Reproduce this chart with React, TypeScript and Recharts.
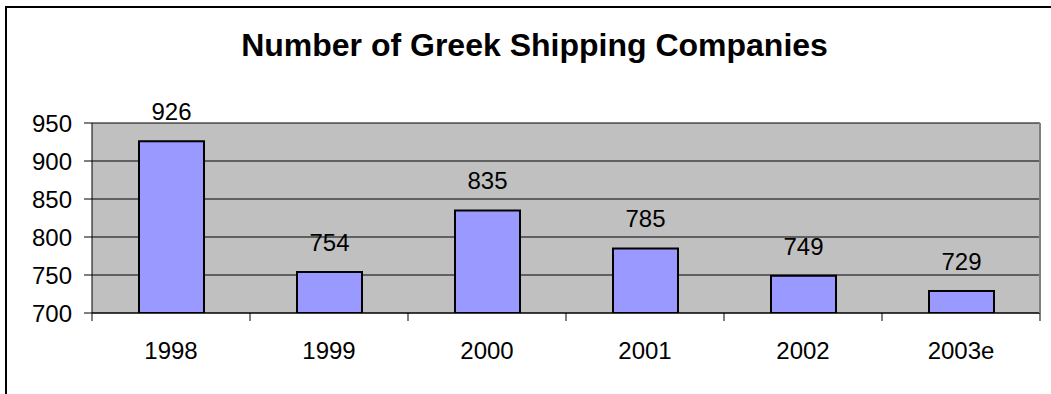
import { BarChart, Bar, XAxis, YAxis, CartesianGrid, LabelList } from "recharts";

// values
const years = ["1998", "1999", "2000", "2001", "2002", "2003e"];
const companies = [926, 754, 835, 785, 749, 729];
const yTicks = [700, 750, 800, 850, 900, 950];

const data = years.map((year, i) => ({ year, companies: companies[i] }));

const FONT = "'Liberation Sans', Arial, sans-serif";
const X_TICK_MARGIN = 29;

// category label plus the small tick marks that sit on the category boundaries
const YearTick = (props: any) => {
  const { x, y, payload, index, visibleTicksCount, width } = props;
  const half =
    typeof payload.offset === "number" && payload.offset > 0
      ? payload.offset
      : width / visibleTicksCount / 2;
  const axisY = y - X_TICK_MARGIN;
  return (
    <g>
      <line x1={x - half} y1={axisY} x2={x - half} y2={axisY + 8} stroke="#000" />
      {index === visibleTicksCount - 1 && (
        <line x1={x + half} y1={axisY} x2={x + half} y2={axisY + 8} stroke="#000" />
      )}
      <text
        x={x}
        y={y}
        dy="0.71em"
        textAnchor="middle"
        fill="#000"
        fontSize={24}
        fontFamily={FONT}
      >
        {payload.value}
      </text>
    </g>
  );
};

export default function App() {
  return (
    <div
      style={{
        position: "absolute",
        left: 0,
        top: 0,
        width: 1051,
        height: 394,
        overflow: "hidden",
        background: "#fff",
        fontFamily: FONT,
      }}
    >
      {/* outer chart frame, runs off the right and bottom edges */}
      <div
        style={{
          position: "absolute",
          left: 5,
          top: 6,
          width: 1100,
          height: 500,
          border: "2px solid #000",
          boxSizing: "border-box",
        }}
      />
      <div
        style={{
          position: "absolute",
          left: 0,
          top: 29,
          width: 1069,
          textAlign: "center",
          fontSize: 32,
          lineHeight: "32px",
          fontWeight: "bold",
          color: "#000",
        }}
      >
        Number of Greek Shipping Companies
      </div>
      <div style={{ position: "absolute", left: 0, top: 0 }}>
        <BarChart
          width={1051}
          height={394}
          data={data}
          margin={{ top: 123, right: 0, bottom: 0, left: 0 }}
          barCategoryGap={0}
        >
          <CartesianGrid
            vertical={false}
            stroke="#000"
            strokeWidth={1}
            fill="#C0C0C0"
            fillOpacity={1}
          />
          <XAxis
            dataKey="year"
            height={81}
            axisLine={{ stroke: "#000", strokeWidth: 1 }}
            tickLine={false}
            tickSize={0}
            tickMargin={X_TICK_MARGIN}
            interval={0}
            tick={<YearTick />}
          />
          <YAxis
            width={92}
            domain={[700, 950]}
            ticks={yTicks}
            allowDataOverflow
            tickSize={8}
            tickMargin={12}
            axisLine={{ stroke: "#000", strokeWidth: 1 }}
            tickLine={{ stroke: "#000" }}
            tick={{ fill: "#000", fontSize: 24, fontFamily: FONT }}
          />
          <YAxis
            yAxisId="r"
            orientation="right"
            width={11}
            domain={[700, 950]}
            tick={false}
            tickLine={false}
            axisLine={{ stroke: "#808080", strokeWidth: 2 }}
          />
          <Bar
            dataKey="companies"
            fill="#9999FF"
            stroke="#000"
            strokeWidth={2}
            barSize={65}
            isAnimationActive={false}
          >
            <LabelList
              dataKey="companies"
              position="top"
              offset={21}
              fill="#000"
              fontSize={24}
              fontFamily={FONT}
            />
          </Bar>
        </BarChart>
      </div>
    </div>
  );
}
